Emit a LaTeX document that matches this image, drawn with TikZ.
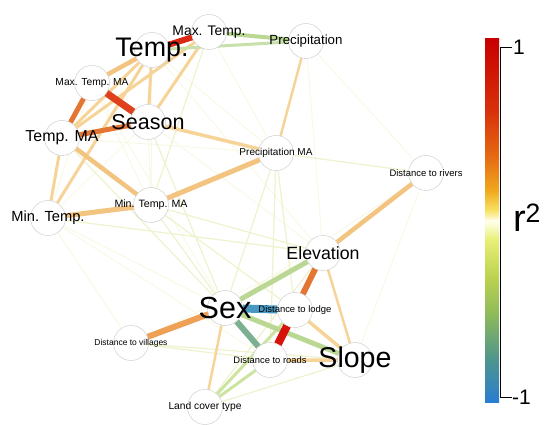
\documentclass[tikz,border=0pt]{standalone}
\usepackage{fontspec}
\setmainfont{Liberation Sans}
\usetikzlibrary{backgrounds}

\definecolor{rred}{RGB}{218,40,18}
\definecolor{dred}{RGB}{215,18,10}
\definecolor{redor}{RGB}{222,65,28}
\definecolor{oran}{RGB}{228,118,52}
\definecolor{oranb}{RGB}{238,160,85}
\definecolor{lor}{RGB}{243,196,128}
\definecolor{plor}{RGB}{246,212,152}
\definecolor{lgreen}{RGB}{186,216,148}
\definecolor{tgreen}{RGB}{125,175,145}
\definecolor{eblue}{RGB}{72,152,195}
\definecolor{pyg}{RGB}{238,242,205}
\definecolor{ppyg}{RGB}{248,248,230}
\definecolor{lyg}{RGB}{205,228,160}
\definecolor{cbA}{RGB}{200,0,0}
\definecolor{cbB}{RGB}{215,50,10}
\definecolor{cbC}{RGB}{230,110,20}
\definecolor{cbD}{RGB}{240,170,30}
\definecolor{cbE}{RGB}{248,225,100}
\definecolor{cbF}{RGB}{255,255,235}
\definecolor{cbG}{RGB}{232,240,120}
\definecolor{cbH}{RGB}{190,212,80}
\definecolor{cbI}{RGB}{140,185,90}
\definecolor{cbJ}{RGB}{80,150,140}
\definecolor{cbK}{RGB}{40,125,210}

\newcommand{\lbl}[1]{\resizebox{73pt}{!}{#1}}

\begin{document}
\begin{tikzpicture}[x=1pt,y=-1pt]
  \tikzset{vtx/.style={circle,draw=black!22,fill=white,minimum size=35pt,inner sep=0pt},
           faint/.style={draw=pyg,line width=1.2pt},
           fainter/.style={draw=ppyg,line width=1pt}}
  \useasboundingbox (0,0) rectangle (547,425);
  \node[vtx,label=center:{\lbl{Temp.}}] (T) at (152,50){};
  \node[vtx,label=center:{\lbl{Max. Temp.}}] (MT) at (209,32){};
  \node[vtx,label=center:{\lbl{Precipitation}}] (P) at (306,41){};
  \node[vtx,label=center:{\lbl{Max. Temp. MA}}] (MTMA) at (92,83){};
  \node[vtx,label=center:{\lbl{Season}}] (Ssn) at (148,122){};
  \node[vtx,label=center:{\lbl{Temp. MA}}] (TMA) at (62,138){};
  \node[vtx,label=center:{\lbl{Precipitation MA}}] (PMA) at (276,153){};
  \node[vtx,label=center:{\lbl{Distance to rivers}}] (DR) at (426,173){};
  \node[vtx,label=center:{\lbl{Min. Temp. MA}}] (NTMA) at (151,205){};
  \node[vtx,label=center:{\lbl{Min. Temp.}}] (NT) at (48,218){};
  \node[vtx,label=center:{\lbl{Elevation}}] (El) at (323,253){};
  \node[vtx,label=center:{\fontsize{30.5}{31}\selectfont Sex}] (Sx) at (225,308){};
  \node[vtx,label=center:{\lbl{Distance to lodge}}] (DL) at (295,310){};
  \node[vtx,label=center:{\lbl{Distance to villages}}] (DV) at (131,343){};
  \node[vtx,label=center:{\lbl{Distance to roads}}] (DRd) at (270,360){};
  \node[vtx,label=center:{\lbl{Slope}}] (Sl) at (355,360){};
  \node[vtx,label=center:{\lbl{Land cover type}}] (LC) at (205,407){};
  \begin{scope}[on background layer]
  \draw[fainter] (MTMA)--(NTMA) (Ssn)--(NT) (Ssn)--(NTMA) (MTMA)--(NT) (T)--(NTMA) (TMA)--(PMA);
  \draw[fainter] (T)--(PMA) (MT)--(PMA) (P)--(DR) (NT)--(Sx) (NT)--(DV) (MTMA)--(Sx);
  \draw[fainter] (Ssn)--(El) (T)--(El) (DR)--(Sx) (DR)--(Sl) (P)--(El) (NT)--(DRd) (DV)--(El);
  \draw[faint] (MT)--(NTMA) (NTMA)--(El) (PMA)--(DL) (PMA)--(DRd) (NTMA)--(Sx);
  \draw[faint] (Ssn)--(Sx) (NTMA)--(DL) (TMA)--(Sx) (NT)--(El) (PMA)--(Sx) (PMA)--(DR);
  \draw[faint] (LC)--(El) (LC)--(Sl) (DV)--(Sl) (DV)--(DRd);
  \draw[plor,line width=3pt] (T)--(TMA) (MT)--(TMA) (T)--(Ssn) (MT)--(Ssn) (T)--(NT) (TMA)--(NT);
  \draw[plor,line width=2.5pt] (P)--(PMA) (El)--(Sl) (LC)--(Sx);
  \draw[plor,line width=3.5pt] (Ssn)--(PMA) (DL)--(Sl) (DRd)--(Sl);
  \draw[lor,line width=4.5pt] (T)--(MTMA) (DR)--(El) (TMA)--(NTMA);
  \draw[lor,line width=5pt] (NT)--(NTMA) (NTMA)--(PMA);
  \draw[lgreen,line width=4pt] (MT)--(P);
  \draw[lgreen!80,line width=3pt] (T)--(P);
  \draw[lyg,line width=3pt] (LC)--(DRd) (LC)--(DL);
  \draw[lgreen,line width=5pt] (El)--(Sx) (Sx)--(Sl);
  \draw[tgreen,line width=6pt] (Sx)--(DRd);
  \draw[oranb,line width=6pt] (Sx)--(DV);
  \draw[oran,line width=5pt] (MTMA)--(TMA) (TMA)--(Ssn);
  \draw[oran,line width=6pt] (El)--(DL);
  \draw[redor,line width=7pt] (MTMA)--(Ssn);
  \draw[rred,line width=6pt] (T)--(MT);
  \draw[eblue,line width=8pt] (Sx)--(DL);
  \draw[dred,line width=8pt] (DL)--(DRd);
  \end{scope}
  % colour key
  \foreach \ya/\yb/\ca/\cb in {39/112/cbA/cbB,112/159/cbB/cbC,159/191/cbC/cbD,191/210/cbD/cbE,
      210/221/cbE/cbF,221/239/cbF/cbG,239/275/cbG/cbH,275/315/cbH/cbI,315/358/cbI/cbJ,358/402/cbJ/cbK}
    \shade[top color=\ca,bottom color=\cb] (485,\ya) rectangle (499,\yb+0.3);
  \draw[line width=0.8pt] (512,47)--(500,47)--(500,397)--(512,397);
  \node[anchor=west,inner sep=1pt,font=\fontsize{21}{21}\selectfont] (kmax) at (512,47){1};
  \node[anchor=west,inner sep=1pt,font=\fontsize{21}{21}\selectfont] (kmin) at (511,397){-1};
  \node[font=\fontsize{38}{38}\selectfont] (kr) at (527,218){r\textsuperscript{2}};
\end{tikzpicture}
\end{document}
